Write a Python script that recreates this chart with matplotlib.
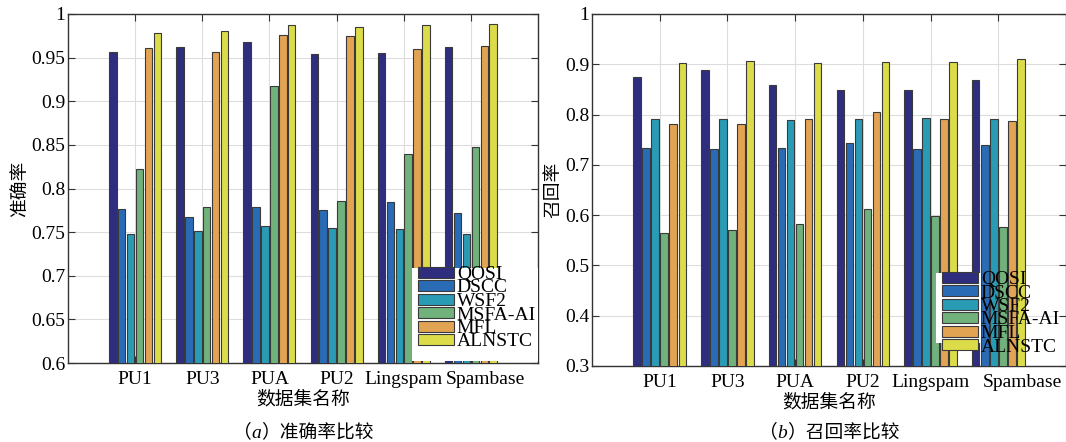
import numpy as np
import matplotlib.pyplot as plt
from matplotlib.patches import Rectangle
from matplotlib.transforms import ScaledTranslation
from matplotlib.offsetbox import TextArea, HPacker, AnchoredOffsetbox

plt.rcParams['font.family'] = ['Liberation Serif', 'Noto Sans CJK SC']
CJK = ['Noto Sans CJK SC', 'DejaVu Sans']

datasets = ["PU1", "PU3", "PUA", "PU2", "Lingspam", "Spambase"]
methods = ["QOSI", "DSCC", "WSF2", "MSFA-AI", "MFL", "ALNSTC"]
colors = ["#2f2e7e", "#2a6bb6", "#2a9bb5", "#71b17c", "#e2a353", "#dcdc4a"]

# accuracy, one list per method (order follows datasets)
acc_qosi = [0.957, 0.962, 0.968, 0.954, 0.955, 0.962]
acc_dscc = [0.777, 0.767, 0.779, 0.775, 0.785, 0.772]
acc_wsf2 = [0.748, 0.751, 0.757, 0.755, 0.754, 0.748]
acc_msfa = [0.822, 0.779, 0.917, 0.786, 0.839, 0.848]
acc_mfl = [0.961, 0.957, 0.976, 0.975, 0.960, 0.963]
acc_alnstc = [0.978, 0.981, 0.987, 0.985, 0.987, 0.988]

# recall
rec_qosi = [0.875, 0.889, 0.859, 0.849, 0.848, 0.868]
rec_dscc = [0.733, 0.731, 0.733, 0.744, 0.731, 0.739]
rec_wsf2 = [0.791, 0.791, 0.790, 0.792, 0.794, 0.791]
rec_msfa = [0.564, 0.570, 0.582, 0.612, 0.598, 0.576]
rec_mfl = [0.781, 0.781, 0.791, 0.806, 0.791, 0.788]
rec_alnstc = [0.902, 0.907, 0.903, 0.905, 0.905, 0.910]

acc_yticks = [0.6, 0.65, 0.7, 0.75, 0.8, 0.85, 0.9, 0.95, 1.0]
rec_yticks = [0.3, 0.4, 0.5, 0.6, 0.7, 0.8, 0.9, 1.0]

W, H = 1066, 442
fig = plt.figure(figsize=(W / 100, H / 100), dpi=100)


def px_axes(l, t, r, b):
    return fig.add_axes([l / W, 1 - b / H, (r - l) / W, (b - t) / H])


def draw(ax, series, ylim, yticks, ylabel, last_shift):
    x = np.arange(1, len(datasets) + 1)
    step = 0.133
    for i, (vals, name, c) in enumerate(zip(series, methods, colors)):
        ax.bar(x + (i - 2.5) * step, vals, width=0.11, color=c,
               edgecolor="#3a3a3a", linewidth=0.8, label=name, zorder=3)
    ax.set_xlim(0, 7)
    ax.set_ylim(*ylim)
    ax.set_xticks(x)
    ax.set_xticklabels(datasets)
    ax.set_yticks(yticks)
    ax.set_yticklabels(["%g" % v for v in yticks])
    ax.grid(True, color="#dddddd", linewidth=0.8)
    ax.set_axisbelow(True)
    ax.tick_params(direction="in", top=True, right=True, length=5,
                   labelsize=14, color="#333333")
    ax.tick_params(axis="x", pad=6)
    ax.tick_params(axis="y", pad=2)
    # last label sits a bit right of its tick in the original
    lab = ax.get_xticklabels()[-1]
    lab.set_transform(lab.get_transform() + ScaledTranslation(last_shift / 100, 0, fig.dpi_scale_trans))
    for s in ax.spines.values():
        s.set_color("#333333")
        s.set_linewidth(1.0)
    ax.set_xlabel("数据集名称", family=CJK, fontsize=13.5, labelpad=0)
    ax.set_ylabel(ylabel, family=CJK, fontsize=13.5, labelpad=1)


def legend_box(ax, l, t, r, b, anchor):
    ax.add_patch(Rectangle((l / W, 1 - b / H), (r - l) / W, (b - t) / H,
                           transform=fig.transFigure, facecolor="white",
                           edgecolor="none", zorder=4, clip_on=False))
    leg = ax.legend(loc="upper left", bbox_to_anchor=(anchor[0] / W, 1 - anchor[1] / H),
                    bbox_transform=fig.transFigure, frameon=False, fontsize=14,
                    handlelength=1.85, handleheight=0.5, handletextpad=0.15,
                    labelspacing=-0.18, borderpad=0, borderaxespad=0)
    leg.set_zorder(5)


def caption(x, letter, rest):
    box = HPacker(children=[TextArea("（", textprops=dict(family=CJK, fontsize=13.5)),
                            TextArea(letter, textprops=dict(family="Liberation Serif",
                                                            style="italic", fontsize=14)),
                            TextArea("）" + rest, textprops=dict(family=CJK, fontsize=13.5))],
                  align="baseline", pad=0, sep=0)
    fig.add_artist(AnchoredOffsetbox(loc="center", child=box, frameon=False,
                                     bbox_to_anchor=(x / W, 1 - 432 / H),
                                     bbox_transform=fig.transFigure, pad=0,
                                     borderpad=0))


ax1 = px_axes(68, 14, 538, 363)
draw(ax1, [acc_qosi, acc_dscc, acc_wsf2, acc_msfa, acc_mfl, acc_alnstc],
     (0.6, 1.0), acc_yticks, "准确率", 15)
legend_box(ax1, 412, 268, 538, 361, (418, 266))

ax2 = px_axes(592, 14, 1066, 366)
draw(ax2, [rec_qosi, rec_dscc, rec_wsf2, rec_msfa, rec_mfl, rec_alnstc],
     (0.3, 1.0), rec_yticks, "召回率", 24)
legend_box(ax2, 936, 273, 981, 343, (942, 271))

caption(303, "a", "准确率比较")
caption(829, "b", "召回率比较")

fig.savefig("out.png", dpi=100)
